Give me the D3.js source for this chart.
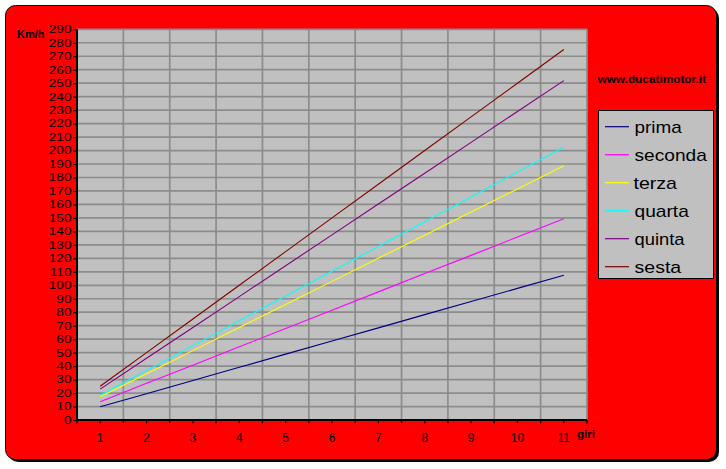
<!DOCTYPE html>
<html><head><meta charset="utf-8">
<script src="https://cdn.jsdelivr.net/npm/d3@7"></script>
<style>body{margin:0;background:#fff}svg{display:block}text{font-family:Arial,"Liberation Sans",sans-serif}</style>
</head><body>
<script>
const giri = [1,2,3,4,5,6,7,8,9,10,11];
const yTicks = d3.range(0, 291, 10);
const prima   = [9.8, 19.5, 29.3, 39.1, 48.9, 58.6, 68.4, 78.2, 87.9, 97.7, 107.5];
const seconda = [13.6, 27.2, 40.7, 54.3, 67.9, 81.5, 95.1, 108.7, 122.2, 135.8, 149.4];
const terza   = [17.2, 34.3, 51.5, 68.6, 85.8, 102.9, 120.1, 137.2, 154.4, 171.5, 188.7];
const quarta  = [18.4, 36.8, 55.2, 73.6, 92.0, 110.4, 128.8, 147.2, 165.6, 184.0, 202.4];
const quinta  = [22.9, 45.8, 68.7, 91.6, 114.5, 137.4, 160.3, 183.2, 206.1, 229.0, 251.9];
const sesta   = [25.0, 50.0, 75.0, 100.0, 125.0, 150.0, 175.0, 200.0, 225.0, 250.0, 275.0];
const seriesNames = ["prima","seconda","terza","quarta","quinta","sesta"];
const seriesValues = [prima, seconda, terza, quarta, quinta, sesta];
const seriesColors = ["#000080","#ff00ff","#ffff00","#00ffff","#800080","#800000"];

const W = 726, H = 469;
const svg = d3.select("body").append("svg").attr("width", W).attr("height", H);

// background
svg.append("rect").attr("x", 8).attr("y", 8).attr("width", 711).attr("height", 454).attr("rx", 10).attr("fill", "#000");
svg.append("rect").attr("x", 5.5).attr("y", 5.5).attr("width", 711).attr("height", 454).attr("rx", 10)
  .attr("fill", "#ff0000").attr("stroke", "#000").attr("stroke-width", 1);

const L = 77, R = 587, T = 29.3, B = 420;
const x = d3.scaleBand().domain(giri).range([L, R]).padding(0);
const y = d3.scaleLinear().domain([0, 290]).range([B, T]);
const bw = x.bandwidth();

svg.append("rect").attr("x", L).attr("y", T).attr("width", R - L).attr("height", B - T).attr("fill", "#c0c0c0");

// gridlines
const grid = svg.append("g").attr("stroke", "#8c8c8c").attr("stroke-width", 1.7);
grid.selectAll(".h").data(yTicks.filter(d => d > 0)).join("line")
  .attr("x1", L).attr("x2", R).attr("y1", d => y(d)).attr("y2", d => y(d));
grid.selectAll(".v").data(giri).join("line")
  .attr("x1", d => x(d) + bw).attr("x2", d => x(d) + bw).attr("y1", T).attr("y2", B);

// lines
const line = d3.line().x((d, i) => x(giri[i]) + bw / 2).y(d => y(d));
svg.append("g").selectAll("path").data(seriesValues).join("path")
  .attr("d", d => line(d)).attr("fill", "none")
  .attr("stroke", (d, i) => seriesColors[i]).attr("stroke-width", 1.1);

// y axis
const yAxis = svg.append("g").attr("transform", `translate(${L},0)`)
  .call(d3.axisLeft(y).tickValues(yTicks).tickSize(4).tickPadding(5).tickFormat(d3.format("d")));
yAxis.select(".domain").remove();
yAxis.selectAll(".tick line").attr("stroke", "#000").attr("stroke-width", 1.2);
yAxis.selectAll(".tick text").attr("font-size", 10.5).attr("fill", "#000")
  .attr("transform", "scale(1.3,1)").attr("x", -5.5 / 1.3);

// x axis
const xAxis = svg.append("g").attr("transform", `translate(0,${B})`)
  .call(d3.axisBottom(x).tickSize(0).tickPadding(13));
xAxis.select(".domain").remove();
xAxis.selectAll(".tick text").attr("font-size", 12).attr("fill", "#000");
const halfTicks = d3.range(0, 23).map(k => L + k * bw / 2);
svg.append("g").selectAll("line").data(halfTicks).join("line")
  .attr("x1", d => d).attr("x2", d => d).attr("y1", B).attr("y2", B + 3.5)
  .attr("stroke", "#000").attr("stroke-width", 1.2);

// axis lines
svg.append("line").attr("x1", L).attr("x2", L).attr("y1", T).attr("y2", B + 1).attr("stroke", "#000").attr("stroke-width", 2);
svg.append("line").attr("x1", L - 1).attr("x2", R).attr("y1", B).attr("y2", B).attr("stroke", "#000").attr("stroke-width", 2);

// titles
svg.append("text").attr("x", 17).attr("y", 38).attr("font-size", 11.5).attr("font-weight", "bold")
  .attr("textLength", 27.5).attr("lengthAdjust", "spacingAndGlyphs").text("Km/h");
svg.append("text").attr("x", 577).attr("y", 437.5).attr("font-size", 11.5).attr("font-weight", "bold")
  .text("giri");
svg.append("text").attr("x", 597.5).attr("y", 83).attr("font-size", 11.5).attr("font-weight", "bold")
  .attr("textLength", 108.5).attr("lengthAdjust", "spacingAndGlyphs").text("www.ducatimotor.it");

// legend
const lg = svg.append("g");
lg.append("rect").attr("x", 598.5).attr("y", 110.5).attr("width", 115).attr("height", 168)
  .attr("fill", "#c0c0c0").attr("stroke", "#000").attr("stroke-width", 1);
const widths = [47.3, 72.3, 43.5, 54.3, 50, 46.7];
seriesNames.forEach((n, i) => {
  const by = 132.7 + i * 28;
  lg.append("line").attr("x1", 605).attr("x2", 629).attr("y1", by - 6).attr("y2", by - 6)
    .attr("stroke", seriesColors[i]).attr("stroke-width", 1.2);
  lg.append("text").attr("x", i === 2 ? 633.5 : 634.5).attr("y", by).attr("font-size", 17)
    .attr("textLength", widths[i]).attr("lengthAdjust", "spacingAndGlyphs").text(n);
});
</script>
</body></html>
